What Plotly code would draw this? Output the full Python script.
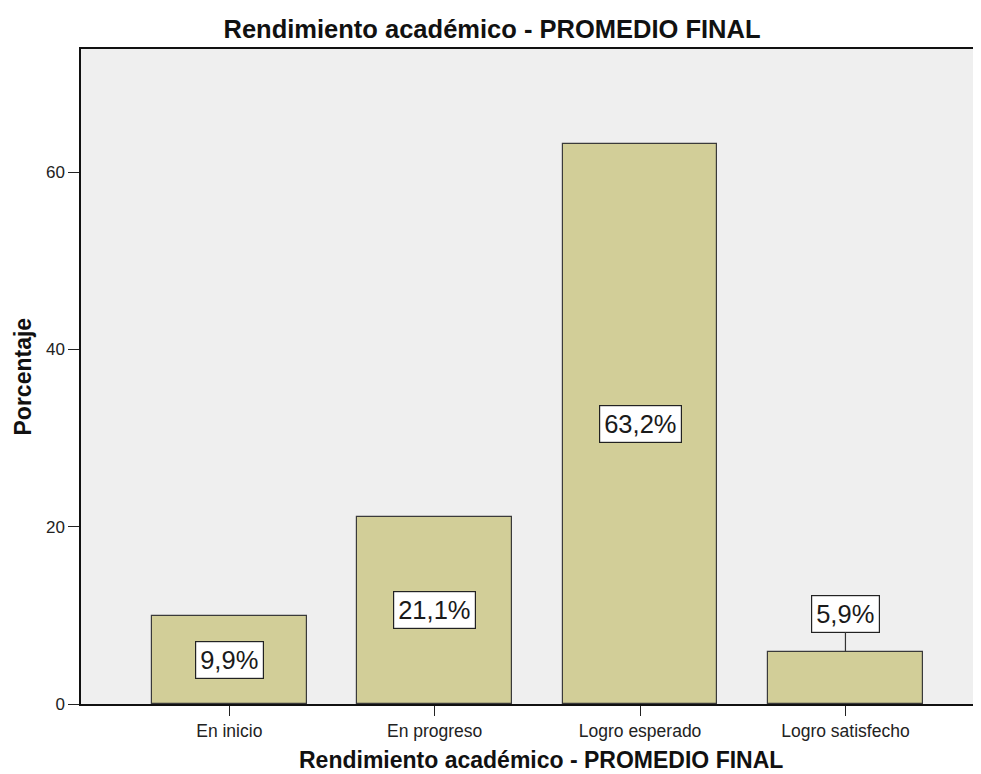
import plotly.graph_objects as go

categories = ["En inicio", "En progreso", "Logro esperado", "Logro satisfecho"]
percentages = [9.9, 21.1, 63.2, 5.9]
y_ticks = [0, 20, 40, 60]
title_text = "Rendimiento académico - PROMEDIO FINAL"
y_title = "Porcentaje"

FONT = "Liberation Sans, Arial"
x_idx = list(range(len(categories)))

# the page body adds an 8px offset; the figure is sized/positioned to compensate
W, H = 973, 766

fig = go.Figure()
fig.add_trace(go.Bar(
    x=x_idx, y=percentages, width=0.752,
    marker=dict(color="#D2CE98", line=dict(color="#3a3a3a", width=1.2)),
    hoverinfo="skip",
))

annotations = []
for i, v in zip(x_idx, percentages):
    txt = f"{v:.1f}".replace(".", ",") + "%"
    common = dict(
        x=i, text=txt, xref="x", yref="y",
        font=dict(family=FONT, size=25.5, color="#1a1a1a"),
        bgcolor="white", bordercolor="#222222", borderwidth=1.2, borderpad=4,
    )
    if v > 8:
        annotations.append(dict(y=v / 2, showarrow=False, **common))
    else:
        annotations.append(dict(y=v, showarrow=True, arrowhead=0, arrowwidth=1.2,
                                arrowcolor="#333333", ax=0, ay=-38, **common))

# axis titles
annotations.append(dict(
    text=f"<b>{title_text}</b>", xref="paper", yref="paper", x=0.5, y=0,
    xanchor="center", yanchor="middle", xshift=10, yshift=-56, showarrow=False,
    font=dict(family=FONT, size=23, color="#111111"),
))
annotations.append(dict(
    text=f"<b>{y_title}</b>", xref="paper", yref="paper", x=0, y=0.5,
    xanchor="center", yanchor="middle", xshift=-59, textangle=-90, showarrow=False,
    font=dict(family=FONT, size=23, color="#111111"),
))

fig.update_layout(
    width=W, height=H,
    margin=dict(l=73, r=0, t=41, b=70),
    paper_bgcolor="white", plot_bgcolor="#EFEFEF",
    showlegend=False,
    title=dict(text=f"<b>{title_text}</b>", x=484 / W, xanchor="center",
               y=1 - 21 / H, yanchor="middle",
               font=dict(family=FONT, size=25.5, color="#111111")),
    annotations=annotations,
    bargap=0,
)
fig.update_xaxes(
    range=[-0.722, 3.66], tickvals=x_idx, ticktext=categories,
    showgrid=False, zeroline=False, automargin=False,
    showline=True, linecolor="#111111", linewidth=1.5, mirror=True,
    ticks="outside", ticklen=10, tickcolor="#222222", tickwidth=1.2,
    tickfont=dict(family=FONT, size=17.5, color="#222222"),
)
fig.update_yaxes(
    range=[0, 73.9], tickvals=y_ticks,
    showgrid=False, zeroline=False, automargin=False,
    showline=True, linecolor="#111111", linewidth=1.5,
    ticks="outside", ticklen=11, tickcolor="#222222", tickwidth=1.2,
    tickfont=dict(family=FONT, size=17, color="#222222"),
)

fig.write_html("out.html")
